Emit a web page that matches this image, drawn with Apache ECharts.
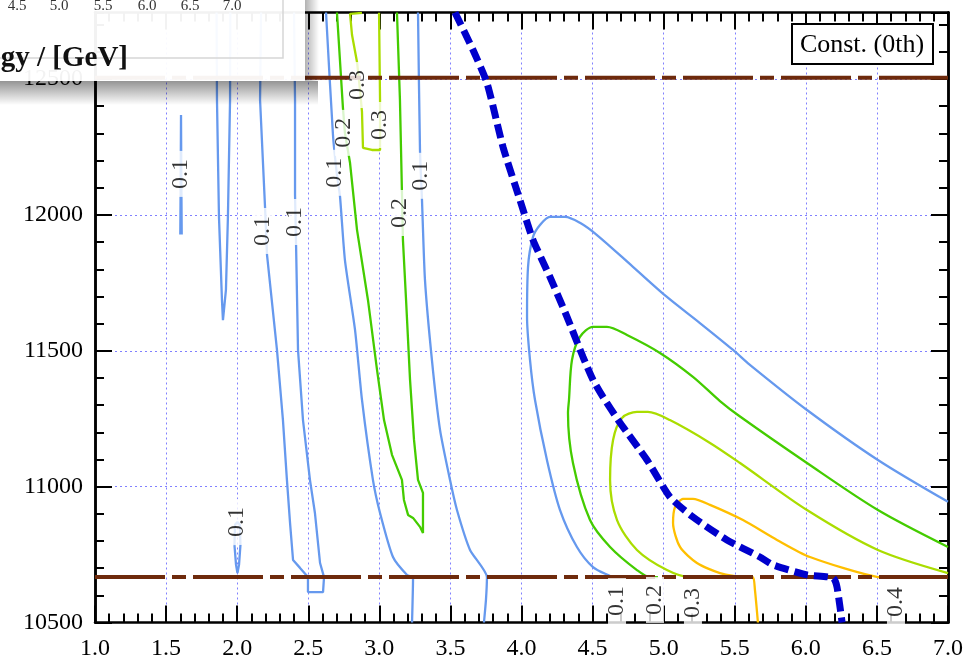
<!DOCTYPE html>
<html>
<head>
<meta charset="utf-8">
<script src="https://cdn.jsdelivr.net/npm/echarts@6/dist/echarts.min.js"></script>
<style>
  html, body { margin: 0; padding: 0; background: #fff; }
  #chart { width: 970px; height: 667px; }
</style>
</head>
<body>
<div id="chart"></div>
<script>
// ---- axis ranges ----
const xRange = [1.0, 7.0];
const yRange = [10500, 12745];

// ---- horizontal band edges (dash-dot lines) ----
const bandLow = 10667;
const bandHigh = 12505;

// ---- kinematic boundary (thick dashed curve) ----
const boundary = [[3.532,12745],[3.659,12607],[3.757,12486],[3.870,12250],[3.989,12055],[4.081,11908],[4.200,11772],[4.320,11625],[4.433,11477],[4.503,11393],[4.573,11330],[4.693,11235],[4.883,11098],[5.044,10962],[5.206,10888],[5.445,10804],[5.677,10741],[5.769,10712],[6.008,10675],[6.191,10664],[6.219,10631],[6.255,10500]];

// ---- contour level 0.1 ----
const lv01a = [[1.600,11928],[1.603,12150],[1.605,12368],[1.607,12150],[1.610,11928]];
const lv01b = [[1.855,12745],[1.858,12423],[1.872,11993],[1.893,11687],[1.900,11613],[1.921,11724],[1.935,11993],[1.950,12423],[1.952,12745]];
const lv01c = [[2.168,12745],[2.161,12423],[2.196,12029],[2.210,11853],[2.280,11503],[2.322,11245],[2.350,11025],[2.372,10866],[2.393,10730],[2.442,10701],[2.498,10667],[2.498,10612],[2.604,10612],[2.611,10667],[2.583,10719],[2.547,10903],[2.512,11025],[2.463,11245],[2.428,11503],[2.414,11897],[2.407,12074],[2.407,12423],[2.400,12745]];
const lv01d = [[2.625,12745],[2.674,12294],[2.702,12147],[2.723,12070],[2.758,11834],[2.829,11577],[2.878,11319],[2.955,11025],[3.005,10903],[3.096,10741],[3.195,10675],[3.237,10664],[3.230,10500]];
const lv01e = [[3.272,12745],[3.286,12239],[3.300,12055],[3.321,11761],[3.370,11466],[3.427,11209],[3.497,11025],[3.546,10914],[3.638,10767],[3.757,10667],[3.750,10583],[3.736,10500]];
const lv01f = [[1.981,10785],[1.985,10860],[2.002,10870],[2.019,10860],[2.023,10785],[2.013,10712],[2.002,10682],[1.992,10712],[1.981,10785]];
const lv01g = [[4.644,10667],[4.623,10671],[4.503,10704],[4.390,10778],[4.271,10914],[4.179,11098],[4.095,11319],[4.060,11466],[4.039,11625],[4.046,11809],[4.081,11919],[4.130,11963],[4.200,11993],[4.306,11993],[4.411,11971],[4.531,11926],[4.784,11809],[5.023,11698],[5.255,11602],[5.488,11503],[5.607,11448],[6.008,11282],[6.507,11098],[7.0,10944]];

// ---- contour level 0.2 ----
const lv02a = [[2.702,12745],[2.744,12394],[2.758,12302],[2.794,12191],[2.843,11945],[2.920,11687],[2.984,11429],[3.033,11245],[3.089,11117],[3.159,11025],[3.173,10951],[3.202,10896],[3.237,10885],[3.286,10852],[3.307,10829],[3.307,10977],[3.272,11025],[3.244,11172],[3.216,11393],[3.188,11687],[3.166,11908],[3.159,12085],[3.145,12423],[3.124,12745]];
const lv02b = [[4.960,10667],[4.904,10667],[4.812,10693],[4.623,10778],[4.482,10877],[4.362,11087],[4.327,11271],[4.334,11319],[4.355,11466],[4.411,11551],[4.503,11588],[4.601,11588],[4.742,11558],[4.974,11492],[5.206,11404],[5.396,11315],[5.537,11258],[6.008,11087],[6.507,10914],[7.0,10778]];

// ---- contour level 0.3 ----
const lv03a = [[2.878,12744],[2.794,12740],[2.808,12662],[2.843,12563],[2.864,12460],[2.878,12379],[2.885,12247],[2.948,12239],[3.005,12239],[3.005,12331],[3.005,12423],[2.998,12744]];
const lv03b = [[5.234,10667],[5.185,10667],[5.023,10693],[4.812,10767],[4.672,10877],[4.623,11025],[4.644,11172],[4.707,11253],[4.812,11275],[4.889,11275],[5.044,11245],[5.326,11161],[5.537,11087],[6.008,10914],[6.507,10767],[7.0,10682]];

// ---- contour level 0.4 ----
const lv04a = [[5.663,10500],[5.642,10620],[5.628,10667],[5.586,10667],[5.396,10682],[5.234,10719],[5.115,10778],[5.066,10866],[5.080,10925],[5.136,10955],[5.206,10955],[5.326,10933],[5.558,10877],[5.797,10804],[6.029,10741],[6.507,10667],[6.641,10664]];

// ---- inline contour labels: [x, y, text] ----
const contourLabels = [
  [1.605,12151,'0.1'], [2.182,11941,'0.1'], [2.407,11974,'0.1'], [2.688,12155,'0.1'],
  [2.751,12302,'0.2'], [2.850,12478,'0.3'], [3.005,12331,'0.3'], [3.145,12007,'0.2'],
  [3.293,12144,'0.1'], [1.999,10870,'0.1'],
  [4.672,10579,'0.1'], [4.939,10583,'0.2'], [5.206,10572,'0.3'], [6.634,10575,'0.4']
];

// ---- texts ----
const legendText = 'Const. (0th)';
const insetTicks = ['4.5', '5.0', '5.5', '6.0', '6.5', '7.0'];
const insetTitle = 'gy / [GeV]';

const levelColors = { '0.1': '#6699ee', '0.2': '#44cc00', '0.3': '#aadd00', '0.4': '#ffbf00' };
// [level, points, smoothing]
const contours = [
  ['0.1', lv01a, 0], ['0.1', lv01b, 0], ['0.1', lv01c, 0], ['0.1', lv01d, 0.2], ['0.1', lv01e, 0.2], ['0.1', lv01f, 0], ['0.1', lv01g, 0.3],
  ['0.2', lv02a, 0], ['0.2', lv02b, 0.3],
  ['0.3', lv03a, 0], ['0.3', lv03b, 0.3],
  ['0.4', lv04a, 0.25]
];

const FONT = '"Liberation Serif", "Times New Roman", serif';

const series = [];
contours.forEach(function (c) {
  series.push({
    type: 'line', data: c[1], showSymbol: false, symbol: 'none', z: 2, smooth: c[2],
    lineStyle: { color: levelColors[c[0]], width: 2.3 }, silent: true
  });
});
[bandLow, bandHigh].forEach(function (v) {
  series.push({
    type: 'line', data: [[xRange[0], v], [xRange[1], v]], showSymbol: false, symbol: 'none', z: 3,
    lineStyle: { color: '#6e2a0c', width: 4, type: [70, 7, 14, 7] }, silent: true
  });
});
series.push({
  type: 'line', data: boundary, showSymbol: false, symbol: 'none', z: 4, smooth: 0.2,
  lineStyle: { color: '#0000cc', width: 7, type: [14, 6], cap: 'butt' }, silent: true
});
series.push({
  type: 'scatter', z: 6, symbolSize: 0, silent: true,
  data: contourLabels.map(function (d) { return { value: [d[0], d[1]], name: d[2] }; }),
  label: {
    show: true, position: 'inside', formatter: '{b}', rotate: 90,
    fontFamily: FONT, fontSize: 24, color: '#000', lineHeight: 18,
    backgroundColor: '#fff', padding: [0, 8, 0, 8]
  }
});

const tickLine = { color: '#000', width: 2 };
function xAx(pos, labels) {
  return {
    type: 'value', min: xRange[0], max: xRange[1], interval: 0.5, position: pos,
    axisLine: { show: true, onZero: false, lineStyle: { color: '#000', width: 2.5 } },
    axisTick: { show: true, inside: true, length: 17, lineStyle: tickLine },
    minorTick: { show: true, splitNumber: 5, length: 9, lineStyle: tickLine },
    splitLine: { show: labels, lineStyle: { color: '#8080ff', width: 1, type: [2, 3] } },
    axisLabel: { show: labels, margin: 14, fontFamily: FONT, fontSize: 24, color: '#000',
                 formatter: function (v) { return v.toFixed(1); } }
  };
}
function yAx(pos, step, len, labels) {
  return {
    type: 'value', min: yRange[0], max: yRange[1], interval: step, position: pos,
    axisLine: { show: true, onZero: false, lineStyle: { color: '#000', width: 2.5 } },
    axisTick: { show: true, inside: true, length: len, lineStyle: tickLine },
    splitLine: { show: labels, lineStyle: { color: '#8080ff', width: 1, type: [2, 3] } },
    axisLabel: { show: labels, margin: 12, fontFamily: FONT, fontSize: 24, color: '#000',
                 showMaxLabel: false, formatter: function (v) { return String(v); } }
  };
}

const chart = echarts.init(document.getElementById('chart'), null, { renderer: 'canvas' });
const insetX = [17, 59, 103, 147, 190, 232];

chart.setOption({
  animation: false,
  backgroundColor: '#fff',
  grid: { left: 95, right: 22, top: 12.5, bottom: 44.5, containLabel: false },
  xAxis: [xAx('bottom', true), xAx('top', false)],
  yAxis: [yAx('left', 500, 17, true), yAx('left', 100, 9, false), yAx('right', 500, 17, false), yAx('right', 100, 9, false)],
  series: series,
  graphic: [
    // legend box
    { type: 'rect', z: 50, shape: { x: 792, y: 24, width: 141, height: 40 },
      style: { fill: '#fff', stroke: '#000', lineWidth: 2 } },
    { type: 'text', z: 51, x: 862, y: 45,
      style: { text: legendText, font: '26px ' + FONT, fill: '#000', align: 'center', verticalAlign: 'middle' } },
    // floating panel in the upper-left corner, with its drop shadow
    { type: 'rect', z: 100, shape: { x: 0, y: 81, width: 318, height: 24 },
      style: { fill: new echarts.graphic.LinearGradient(0, 0, 0, 1, [
        { offset: 0, color: 'rgba(0,0,0,0.42)' }, { offset: 1, color: 'rgba(0,0,0,0)' }]) } },
    { type: 'rect', z: 100, shape: { x: 305, y: 0, width: 14, height: 81 },
      style: { fill: new echarts.graphic.LinearGradient(0, 0, 1, 0, [
        { offset: 0, color: 'rgba(0,0,0,0.30)' }, { offset: 1, color: 'rgba(0,0,0,0)' }]) } },
    { type: 'rect', z: 101, shape: { x: 0, y: 0, width: 305, height: 81 },
      style: { fill: 'rgba(255,255,255,0.95)' } },
    { type: 'rect', z: 102, shape: { x: -5, y: -5, width: 288, height: 63 },
      style: { fill: 'none', stroke: '#d6d6d6', lineWidth: 1.5 } }
  ].concat(insetTicks.map(function (t, i) {
    return { type: 'text', z: 103, x: insetX[i], y: 6,
      style: { text: t, font: '15px ' + FONT, fill: '#333', align: 'center', verticalAlign: 'middle' } };
  })).concat([
    { type: 'text', z: 103, x: 128, y: 59,
      style: { text: insetTitle, font: 'bold 29px ' + FONT, fill: '#111', align: 'right', verticalAlign: 'middle' } }
  ])
});
</script>
</body>
</html>
